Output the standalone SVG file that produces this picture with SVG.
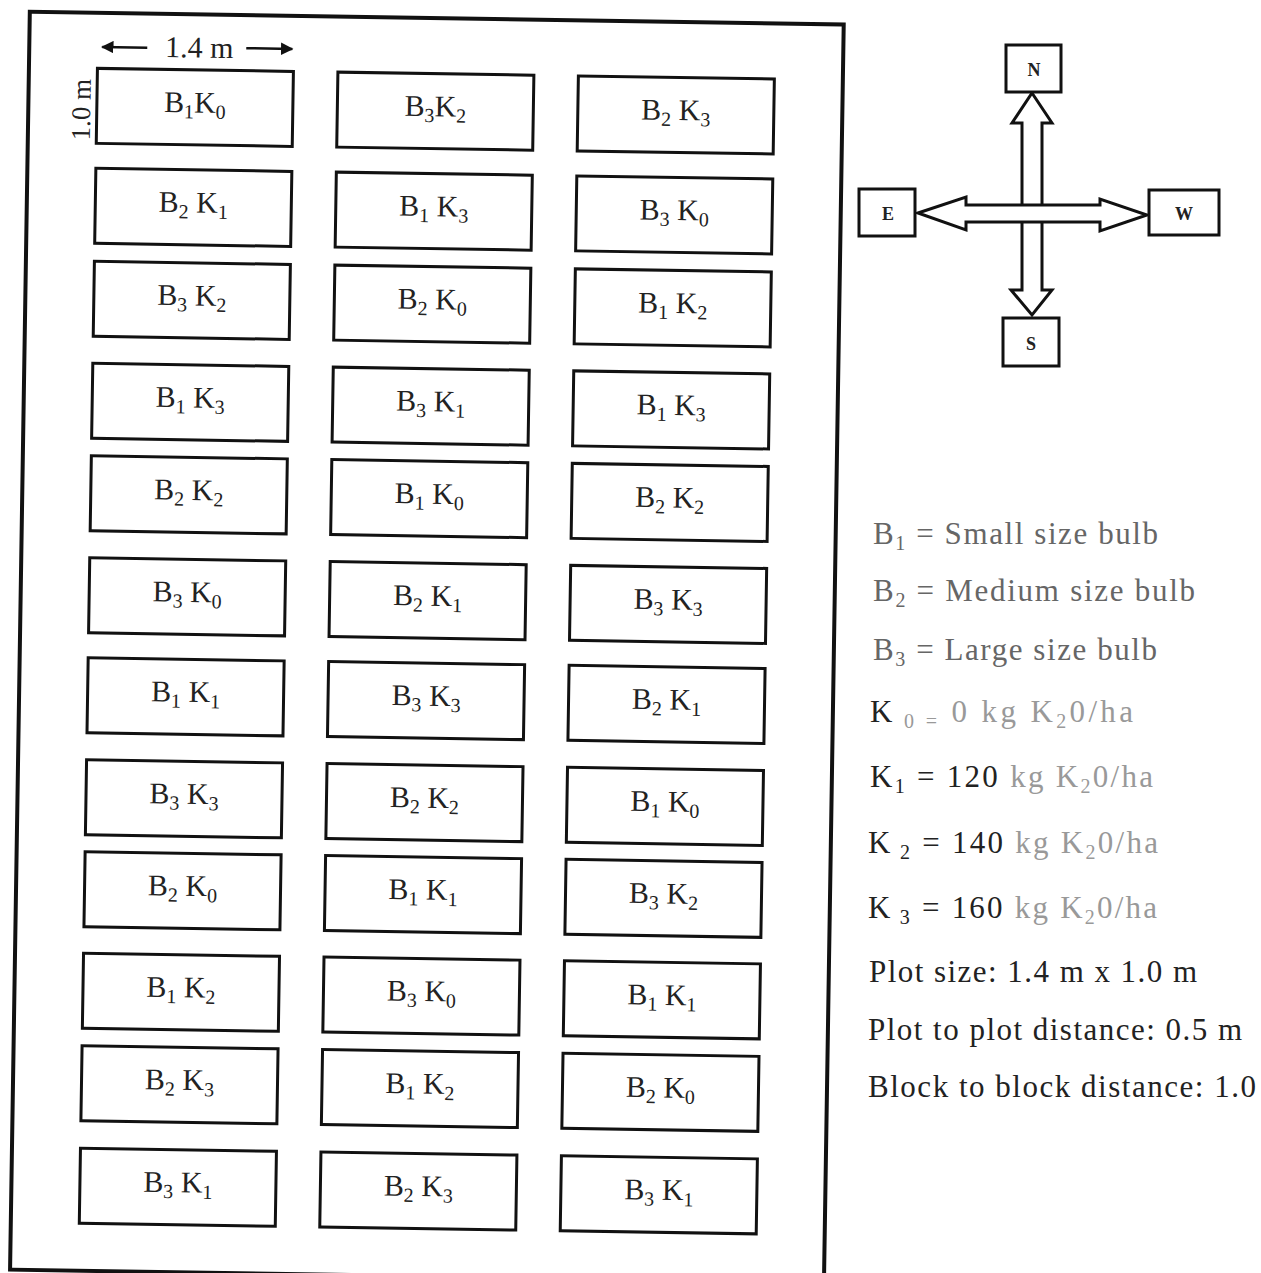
<svg xmlns="http://www.w3.org/2000/svg" width="1261" height="1273" viewBox="0 0 1261 1273">
<style>
  .plot rect { fill: #fff; stroke: #111; stroke-width: 3; }
  .plot text { font-family: "Liberation Serif", "Times New Roman", serif; font-size: 30px; fill: #222; text-anchor: middle; }
  .s { font-size: 20px; }
  .dim { font-family: "Liberation Serif", "Times New Roman", serif; fill: #222; text-anchor: middle; }
  .dir rect { fill: #fff; stroke: #111; stroke-width: 3; }
  .dir text { font-family: "Liberation Serif", "Times New Roman", serif; font-size: 18px; font-weight: bold; fill: #222; text-anchor: middle; }
  .leg { font-family: "Liberation Serif", "Times New Roman", serif; font-size: 31px; }
  .g1 { fill: #666; }
  .dk { fill: #222; }
  .lt { fill: #999; }
  .ls { font-size: 20px; }
</style>
<defs>
  <marker id="ah" viewBox="0 0 10 10" refX="9" refY="5" markerWidth="5" markerHeight="5" orient="auto-start-reverse">
    <path d="M0,0 L10,5 L0,10 z" fill="#111"/>
  </marker>
</defs>
<rect width="1261" height="1273" fill="#fff"/>

<g id="field" transform="rotate(0.9 420 640)">
  <rect id="frame" x="20" y="18" width="814" height="1258" fill="none" stroke="#111" stroke-width="4"/>
  <g id="dimensions">
    <line x1="138" y1="52" x2="93" y2="52" stroke="#111" stroke-width="2.5" marker-end="url(#ah)"/>
    <line x1="237" y1="51" x2="283" y2="51" stroke="#111" stroke-width="2.5" marker-end="url(#ah)"/>
    <text class="dim" x="190" y="61" font-size="30">1.4 m</text>
    <text class="dim" x="82" y="115" font-size="27" transform="rotate(-90 82 115)">1.0 m</text>
  </g>

  <!-- Column 1 -->
  <g id="c1r1" class="plot"><rect x="88.5" y="73.5" width="196" height="75"/><text x="186.5" y="116">B<tspan class="s" dy="6">1</tspan><tspan dy="-6">K</tspan><tspan class="s" dy="6">0</tspan></text></g>
  <g id="c1r2" class="plot"><rect x="88.5" y="173.5" width="196" height="75"/><text x="186.5" y="216">B<tspan class="s" dy="6">2</tspan><tspan dy="-6"> K</tspan><tspan class="s" dy="6">1</tspan></text></g>
  <g id="c1r3" class="plot"><rect x="88.5" y="266.5" width="196" height="75"/><text x="186.5" y="309">B<tspan class="s" dy="6">3</tspan><tspan dy="-6"> K</tspan><tspan class="s" dy="6">2</tspan></text></g>
  <g id="c1r4" class="plot"><rect x="88.5" y="368.5" width="196" height="75"/><text x="186.5" y="411">B<tspan class="s" dy="6">1</tspan><tspan dy="-6"> K</tspan><tspan class="s" dy="6">3</tspan></text></g>
  <g id="c1r5" class="plot"><rect x="88.5" y="461" width="196" height="75"/><text x="186.5" y="503.5">B<tspan class="s" dy="6">2</tspan><tspan dy="-6"> K</tspan><tspan class="s" dy="6">2</tspan></text></g>
  <g id="c1r6" class="plot"><rect x="88.5" y="563" width="196" height="75"/><text x="186.5" y="605.5">B<tspan class="s" dy="6">3</tspan><tspan dy="-6"> K</tspan><tspan class="s" dy="6">0</tspan></text></g>
  <g id="c1r7" class="plot"><rect x="88.5" y="663" width="196" height="75"/><text x="186.5" y="705.5">B<tspan class="s" dy="6">1</tspan><tspan dy="-6"> K</tspan><tspan class="s" dy="6">1</tspan></text></g>
  <g id="c1r8" class="plot"><rect x="88.5" y="765" width="196" height="75"/><text x="186.5" y="807.5">B<tspan class="s" dy="6">3</tspan><tspan dy="-6"> K</tspan><tspan class="s" dy="6">3</tspan></text></g>
  <g id="c1r9" class="plot"><rect x="88.5" y="857" width="196" height="75"/><text x="186.5" y="899.5">B<tspan class="s" dy="6">2</tspan><tspan dy="-6"> K</tspan><tspan class="s" dy="6">0</tspan></text></g>
  <g id="c1r10" class="plot"><rect x="88.5" y="958.5" width="196" height="75"/><text x="186.5" y="1001">B<tspan class="s" dy="6">1</tspan><tspan dy="-6"> K</tspan><tspan class="s" dy="6">2</tspan></text></g>
  <g id="c1r11" class="plot"><rect x="88.5" y="1051" width="196" height="75"/><text x="186.5" y="1093.5">B<tspan class="s" dy="6">2</tspan><tspan dy="-6"> K</tspan><tspan class="s" dy="6">3</tspan></text></g>
  <g id="c1r12" class="plot"><rect x="88.5" y="1153.5" width="196" height="75"/><text x="186.5" y="1196">B<tspan class="s" dy="6">3</tspan><tspan dy="-6"> K</tspan><tspan class="s" dy="6">1</tspan></text></g>

  <!-- Column 2 -->
  <g id="c2r1" class="plot"><rect x="329" y="73.5" width="196" height="75"/><text x="427" y="116">B<tspan class="s" dy="6">3</tspan><tspan dy="-6">K</tspan><tspan class="s" dy="6">2</tspan></text></g>
  <g id="c2r2" class="plot"><rect x="329" y="173.5" width="196" height="75"/><text x="427" y="216">B<tspan class="s" dy="6">1</tspan><tspan dy="-6"> K</tspan><tspan class="s" dy="6">3</tspan></text></g>
  <g id="c2r3" class="plot"><rect x="329" y="266.5" width="196" height="75"/><text x="427" y="309">B<tspan class="s" dy="6">2</tspan><tspan dy="-6"> K</tspan><tspan class="s" dy="6">0</tspan></text></g>
  <g id="c2r4" class="plot"><rect x="329" y="368.5" width="196" height="75"/><text x="427" y="411">B<tspan class="s" dy="6">3</tspan><tspan dy="-6"> K</tspan><tspan class="s" dy="6">1</tspan></text></g>
  <g id="c2r5" class="plot"><rect x="329" y="461" width="196" height="75"/><text x="427" y="503.5">B<tspan class="s" dy="6">1</tspan><tspan dy="-6"> K</tspan><tspan class="s" dy="6">0</tspan></text></g>
  <g id="c2r6" class="plot"><rect x="329" y="563" width="196" height="75"/><text x="427" y="605.5">B<tspan class="s" dy="6">2</tspan><tspan dy="-6"> K</tspan><tspan class="s" dy="6">1</tspan></text></g>
  <g id="c2r7" class="plot"><rect x="329" y="663" width="196" height="75"/><text x="427" y="705.5">B<tspan class="s" dy="6">3</tspan><tspan dy="-6"> K</tspan><tspan class="s" dy="6">3</tspan></text></g>
  <g id="c2r8" class="plot"><rect x="329" y="765" width="196" height="75"/><text x="427" y="807.5">B<tspan class="s" dy="6">2</tspan><tspan dy="-6"> K</tspan><tspan class="s" dy="6">2</tspan></text></g>
  <g id="c2r9" class="plot"><rect x="329" y="857" width="196" height="75"/><text x="427" y="899.5">B<tspan class="s" dy="6">1</tspan><tspan dy="-6"> K</tspan><tspan class="s" dy="6">1</tspan></text></g>
  <g id="c2r10" class="plot"><rect x="329" y="958.5" width="196" height="75"/><text x="427" y="1001">B<tspan class="s" dy="6">3</tspan><tspan dy="-6"> K</tspan><tspan class="s" dy="6">0</tspan></text></g>
  <g id="c2r11" class="plot"><rect x="329" y="1051" width="196" height="75"/><text x="427" y="1093.5">B<tspan class="s" dy="6">1</tspan><tspan dy="-6"> K</tspan><tspan class="s" dy="6">2</tspan></text></g>
  <g id="c2r12" class="plot"><rect x="329" y="1153.5" width="196" height="75"/><text x="427" y="1196">B<tspan class="s" dy="6">2</tspan><tspan dy="-6"> K</tspan><tspan class="s" dy="6">3</tspan></text></g>

  <!-- Column 3 -->
  <g id="c3r1" class="plot"><rect x="569.5" y="73.5" width="196" height="75"/><text x="667.5" y="116">B<tspan class="s" dy="6">2</tspan><tspan dy="-6"> K</tspan><tspan class="s" dy="6">3</tspan></text></g>
  <g id="c3r2" class="plot"><rect x="569.5" y="173.5" width="196" height="75"/><text x="667.5" y="216">B<tspan class="s" dy="6">3</tspan><tspan dy="-6"> K</tspan><tspan class="s" dy="6">0</tspan></text></g>
  <g id="c3r3" class="plot"><rect x="569.5" y="266.5" width="196" height="75"/><text x="667.5" y="309">B<tspan class="s" dy="6">1</tspan><tspan dy="-6"> K</tspan><tspan class="s" dy="6">2</tspan></text></g>
  <g id="c3r4" class="plot"><rect x="569.5" y="368.5" width="196" height="75"/><text x="667.5" y="411">B<tspan class="s" dy="6">1</tspan><tspan dy="-6"> K</tspan><tspan class="s" dy="6">3</tspan></text></g>
  <g id="c3r5" class="plot"><rect x="569.5" y="461" width="196" height="75"/><text x="667.5" y="503.5">B<tspan class="s" dy="6">2</tspan><tspan dy="-6"> K</tspan><tspan class="s" dy="6">2</tspan></text></g>
  <g id="c3r6" class="plot"><rect x="569.5" y="563" width="196" height="75"/><text x="667.5" y="605.5">B<tspan class="s" dy="6">3</tspan><tspan dy="-6"> K</tspan><tspan class="s" dy="6">3</tspan></text></g>
  <g id="c3r7" class="plot"><rect x="569.5" y="663" width="196" height="75"/><text x="667.5" y="705.5">B<tspan class="s" dy="6">2</tspan><tspan dy="-6"> K</tspan><tspan class="s" dy="6">1</tspan></text></g>
  <g id="c3r8" class="plot"><rect x="569.5" y="765" width="196" height="75"/><text x="667.5" y="807.5">B<tspan class="s" dy="6">1</tspan><tspan dy="-6"> K</tspan><tspan class="s" dy="6">0</tspan></text></g>
  <g id="c3r9" class="plot"><rect x="569.5" y="857" width="196" height="75"/><text x="667.5" y="899.5">B<tspan class="s" dy="6">3</tspan><tspan dy="-6"> K</tspan><tspan class="s" dy="6">2</tspan></text></g>
  <g id="c3r10" class="plot"><rect x="569.5" y="958.5" width="196" height="75"/><text x="667.5" y="1001">B<tspan class="s" dy="6">1</tspan><tspan dy="-6"> K</tspan><tspan class="s" dy="6">1</tspan></text></g>
  <g id="c3r11" class="plot"><rect x="569.5" y="1051" width="196" height="75"/><text x="667.5" y="1093.5">B<tspan class="s" dy="6">2</tspan><tspan dy="-6"> K</tspan><tspan class="s" dy="6">0</tspan></text></g>
  <g id="c3r12" class="plot"><rect x="569.5" y="1153.5" width="196" height="75"/><text x="667.5" y="1196">B<tspan class="s" dy="6">3</tspan><tspan dy="-6"> K</tspan><tspan class="s" dy="6">1</tspan></text></g>
</g>

<g id="compass-connectors">
  <polygon points="1032,93 1052,123 1042,123 1042,290 1052,290 1032,315 1011,290 1022,290 1022,123 1012,123" fill="#fff" stroke="#111" stroke-width="3" stroke-linejoin="miter"/>
  <polygon points="918,213 966,197 966,205 1100,205 1100,199 1147,215 1100,231 1100,222 966,222 966,230" fill="#fff" stroke="#111" stroke-width="3" stroke-linejoin="miter"/>
</g>
<g id="N" class="dir"><rect x="1006" y="45" width="55" height="47"/><text x="1034" y="76">N</text></g>
<g id="S" class="dir"><rect x="1003" y="318" width="56" height="48"/><text x="1031" y="350">S</text></g>
<g id="E" class="dir"><rect x="859" y="189" width="56" height="47"/><text x="888" y="220">E</text></g>
<g id="W" class="dir"><rect x="1149" y="190" width="70" height="45"/><text x="1184" y="220">W</text></g>

<g id="legend" class="leg">
  <text x="873" y="544" class="g1" textLength="285" lengthAdjust="spacing">B<tspan class="ls" dy="6">1</tspan><tspan dy="-6"> = Small size bulb</tspan></text>
  <text x="873" y="601" class="g1" textLength="322" lengthAdjust="spacing">B<tspan class="ls" dy="6">2</tspan><tspan dy="-6"> = Medium size bulb</tspan></text>
  <text x="873" y="660" class="g1" textLength="284" lengthAdjust="spacing">B<tspan class="ls" dy="6">3</tspan><tspan dy="-6"> = Large size bulb</tspan></text>
  <text x="870" y="722" class="lt" textLength="263" lengthAdjust="spacing"><tspan class="dk">K</tspan><tspan class="ls" dy="6"> 0 =</tspan><tspan dy="-6"> 0  kg  K</tspan><tspan class="ls" dy="6">2</tspan><tspan dy="-6">0/ha</tspan></text>
  <text x="870" y="787" class="lt" textLength="283" lengthAdjust="spacing"><tspan class="dk">K</tspan><tspan class="ls dk" dy="6">1</tspan><tspan class="dk" dy="-6"> = 120</tspan> kg  K<tspan class="ls" dy="6">2</tspan><tspan dy="-6">0/ha</tspan></text>
  <text x="868" y="853" class="lt" textLength="290" lengthAdjust="spacing"><tspan class="dk">K</tspan><tspan class="ls dk" dy="6"> 2</tspan><tspan class="dk" dy="-6"> = 140</tspan> kg  K<tspan class="ls" dy="6">2</tspan><tspan dy="-6">0/ha</tspan></text>
  <text x="868" y="918" class="lt" textLength="289" lengthAdjust="spacing"><tspan class="dk">K</tspan><tspan class="ls dk" dy="6"> 3</tspan><tspan class="dk" dy="-6"> = 160</tspan> kg  K<tspan class="ls" dy="6">2</tspan><tspan dy="-6">0/ha</tspan></text>
  <text x="869" y="982" class="dk" textLength="328" lengthAdjust="spacing">Plot size: 1.4 m x 1.0 m</text>
  <text x="868" y="1040" class="dk" textLength="374" lengthAdjust="spacing">Plot to plot distance: 0.5 m</text>
  <text x="868" y="1097" class="dk" textLength="388" lengthAdjust="spacing">Block to block distance: 1.0</text>
</g>
</svg>
